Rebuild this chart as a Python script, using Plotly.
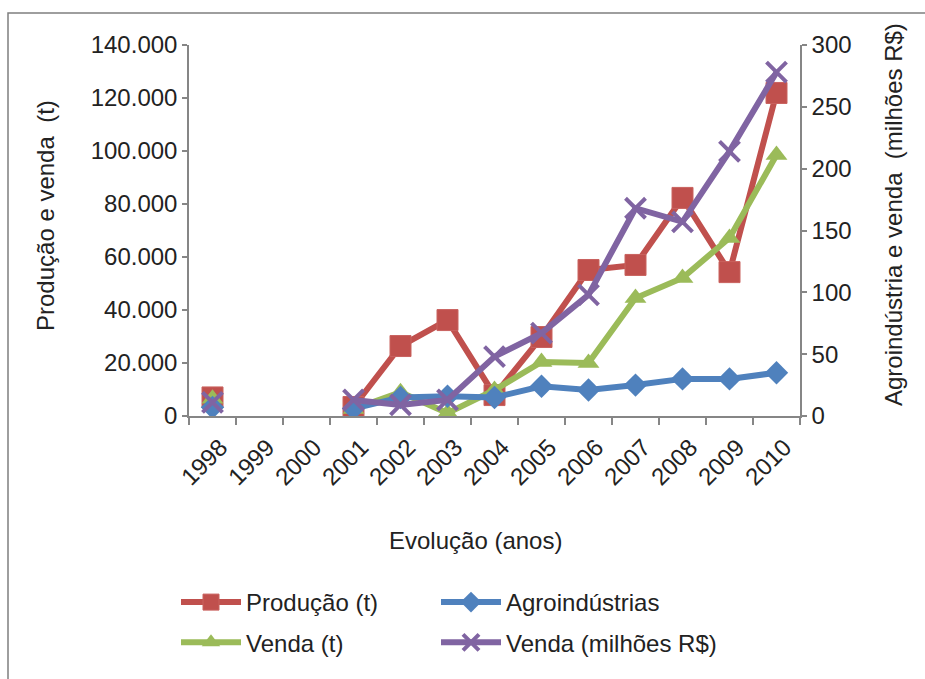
import plotly.graph_objects as go

# Anos da série
anos = ["1998", "1999", "2000", "2001", "2002", "2003", "2004",
        "2005", "2006", "2007", "2008", "2009", "2010"]

# Eixo esquerdo (toneladas)
producao_t = [7000, None, None, 3400, 26400, 36200, 7900,
              29800, 55100, 57000, 82300, 54300, 121900]
venda_t = [6500, None, None, 2600, 9000, 1100, 9800,
           20400, 20000, 44500, 52100, 67200, 98500]

# Eixo direito (número de agroindústrias e milhões de R$)
agroindustrias = [7, None, None, 6, 15, 16, 15,
                  24, 21, 25, 30, 30, 35]
venda_rs = [11, None, None, 13, 9, 13, 48,
            67, 98, 168, 157, 214, 278]

# Rótulos dos eixos
ticks_esq = [0, 20000, 40000, 60000, 80000, 100000, 120000, 140000]
ticks_esq_txt = ["0", "20.000", "40.000", "60.000", "80.000",
                 "100.000", "120.000", "140.000"]
ticks_dir = [0, 50, 100, 150, 200, 250, 300]

FONT = "Liberation Sans, Arial, sans-serif"
TXT = "#222222"
AXIS = "#868686"
FS = 24

VERMELHO = "#C0504D"
AZUL = "#4F81BD"
VERDE = "#9BBB59"
ROXO = "#8064A2"

fig = go.Figure()

fig.add_trace(go.Scatter(
    x=anos, y=producao_t, name="Produção (t)", mode="lines+markers",
    line=dict(color=VERMELHO, width=6),
    marker=dict(symbol="square", size=21, color=VERMELHO,
                line=dict(color="#C9625F", width=1)),
    legend="legend", legendgroup="a", yaxis="y"))

fig.add_trace(go.Scatter(
    x=anos, y=venda_t, name="Venda (t)", mode="lines+markers",
    line=dict(color=VERDE, width=6),
    marker=dict(symbol="triangle-up", size=19, color=VERDE),
    legend="legend", legendgroup="b", yaxis="y"))

fig.add_trace(go.Scatter(
    x=anos, y=agroindustrias, name="Agroindústrias", mode="lines+markers",
    line=dict(color=AZUL, width=6),
    marker=dict(symbol="diamond", size=18, color=AZUL),
    legend="legend2", legendgroup="c", yaxis="y2"))

fig.add_trace(go.Scatter(
    x=anos, y=venda_rs, name="Venda (milhões R$)", mode="lines+markers",
    line=dict(color=ROXO, width=6),
    marker=dict(symbol="x-thin", size=20, color=ROXO,
                line=dict(color=ROXO, width=4)),
    legend="legend2", legendgroup="d", yaxis="y2"))

# Conversão de pixels para coordenadas "paper"
L, R, T, B = 189, 800, 45, 416
W, H = 925, 679


def px(xp):
    return (xp - L) / (R - L)


def py(yp):
    return (B - yp) / (B - T)


fig.update_layout(
    width=W, height=H,
    margin=dict(l=L, r=W - R, t=T, b=H - B),
    paper_bgcolor="white", plot_bgcolor="white",
    font=dict(family=FONT, size=FS, color=TXT),
    showlegend=True,
    xaxis=dict(
        type="category", range=[-0.5, 12.5],
        showline=True, linecolor=AXIS, linewidth=1.5,
        ticks="outside", ticklen=7, tickcolor=AXIS, tickwidth=1.5,
        tickson="boundaries", tickangle=-45,
        ticklabelshift=8, ticklabelstandoff=6,
        showgrid=False, zeroline=False,
        tickfont=dict(size=FS),
    ),
    yaxis=dict(
        range=[0, 140000], tickvals=ticks_esq, ticktext=ticks_esq_txt,
        showline=True, linecolor=AXIS, linewidth=1.5,
        ticks="outside", ticklen=5, tickcolor=AXIS, tickwidth=1.5,
        showgrid=False, zeroline=False, tickfont=dict(size=FS),
    ),
    yaxis2=dict(
        range=[0, 300], tickvals=ticks_dir, overlaying="y", side="right",
        anchor="x",
        showline=True, linecolor=AXIS, linewidth=1.5,
        ticks="outside", ticklen=5, tickcolor=AXIS, tickwidth=1.5,
        showgrid=False, zeroline=False, tickfont=dict(size=FS),
    ),
    legend=dict(
        x=px(176), y=py(580), xanchor="left", yanchor="top",
        orientation="v", tracegroupgap=6, itemwidth=60,
        font=dict(size=FS), bgcolor="rgba(0,0,0,0)",
    ),
    legend2=dict(
        x=px(436), y=py(580), xanchor="left", yanchor="top",
        orientation="v", tracegroupgap=6, itemwidth=60,
        font=dict(size=FS), bgcolor="rgba(0,0,0,0)",
    ),
    annotations=[
        dict(text="Produção e venda  (t)", xref="paper", yref="paper",
             x=px(45), y=py(216), xanchor="center", yanchor="middle",
             textangle=-90, showarrow=False, font=dict(size=FS)),
        dict(text="Agroindústria e venda  (milhões R$)", xref="paper",
             yref="paper", x=px(894), y=py(214), xanchor="center",
             yanchor="middle", textangle=-90,
             showarrow=False, font=dict(size=FS)),
        dict(text="Evolução (anos)", xref="paper", yref="paper",
             x=px(475), y=py(540), xanchor="center", yanchor="middle",
             showarrow=False, font=dict(size=FS)),
    ],
    shapes=[
        dict(type="rect", xref="paper", yref="paper",
             x0=px(8), y0=py(700), x1=px(940), y1=py(13),
             line=dict(color="#7F7F7F", width=1.5), layer="below"),
    ],
)

fig.write_html("out.html")
